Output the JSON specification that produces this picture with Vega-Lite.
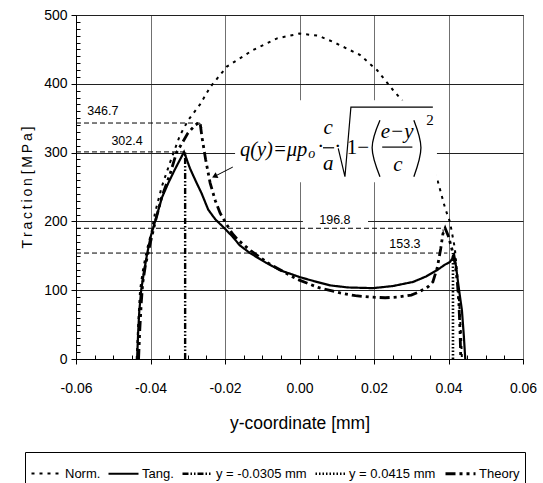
{
  "$schema": "https://vega.github.io/schema/vega-lite/v6.json",
  "width": 447,
  "height": 344,
  "autosize": {"type": "none"},
  "padding": {"left": 76, "top": 15, "right": 20, "bottom": 124},
  "background": "white",
  "config": {
    "font": "Liberation Sans",
    "view": {"stroke": "black", "strokeWidth": 1},
    "axis": {
      "domainColor": "black", "tickColor": "black", "labelColor": "black", "titleColor": "black",
      "labelFont": "Liberation Sans", "titleFont": "Liberation Sans",
      "labelFontSize": 14, "titleFontWeight": "normal"
    }
  },
  "datasets": {
    "curves": [
      {"s": "Norm.", "x": -0.0437, "v": 0}, {"s": "Norm.", "x": -0.0433, "v": 50}, {"s": "Norm.", "x": -0.0428, "v": 100},
      {"s": "Norm.", "x": -0.0420, "v": 130}, {"s": "Norm.", "x": -0.0410, "v": 158}, {"s": "Norm.", "x": -0.0397, "v": 185},
      {"s": "Norm.", "x": -0.0388, "v": 212}, {"s": "Norm.", "x": -0.0370, "v": 250}, {"s": "Norm.", "x": -0.0348, "v": 285},
      {"s": "Norm.", "x": -0.0321, "v": 325}, {"s": "Norm.", "x": -0.0299, "v": 347}, {"s": "Norm.", "x": -0.0267, "v": 370},
      {"s": "Norm.", "x": -0.0240, "v": 395}, {"s": "Norm.", "x": -0.0195, "v": 425}, {"s": "Norm.", "x": -0.0125, "v": 449},
      {"s": "Norm.", "x": -0.0060, "v": 466}, {"s": "Norm.", "x": 0.0, "v": 473}, {"s": "Norm.", "x": 0.0050, "v": 470},
      {"s": "Norm.", "x": 0.0090, "v": 461}, {"s": "Norm.", "x": 0.0162, "v": 442}, {"s": "Norm.", "x": 0.0208, "v": 420},
      {"s": "Norm.", "x": 0.0251, "v": 391}, {"s": "Norm.", "x": 0.0275, "v": 376}, {"s": "Norm.", "x": 0.0310, "v": 337},
      {"s": "Norm.", "x": 0.0345, "v": 297}, {"s": "Norm.", "x": 0.0372, "v": 257}, {"s": "Norm.", "x": 0.0391, "v": 219},
      {"s": "Norm.", "x": 0.0404, "v": 199}, {"s": "Norm.", "x": 0.0417, "v": 161}, {"s": "Norm.", "x": 0.0424, "v": 120},
      {"s": "Norm.", "x": 0.0430, "v": 70}, {"s": "Norm.", "x": 0.0434, "v": 30}, {"s": "Norm.", "x": 0.0436, "v": 0},

      {"s": "Tang.", "x": -0.0436, "v": 0}, {"s": "Tang.", "x": -0.0433, "v": 40}, {"s": "Tang.", "x": -0.0430, "v": 70},
      {"s": "Tang.", "x": -0.0425, "v": 100}, {"s": "Tang.", "x": -0.0418, "v": 125}, {"s": "Tang.", "x": -0.0409, "v": 153},
      {"s": "Tang.", "x": -0.0400, "v": 177}, {"s": "Tang.", "x": -0.0385, "v": 205}, {"s": "Tang.", "x": -0.0369, "v": 235},
      {"s": "Tang.", "x": -0.0352, "v": 256}, {"s": "Tang.", "x": -0.0335, "v": 275}, {"s": "Tang.", "x": -0.0310, "v": 301},
      {"s": "Tang.", "x": -0.0294, "v": 277}, {"s": "Tang.", "x": -0.0278, "v": 258}, {"s": "Tang.", "x": -0.0263, "v": 241},
      {"s": "Tang.", "x": -0.0245, "v": 217}, {"s": "Tang.", "x": -0.0226, "v": 203}, {"s": "Tang.", "x": -0.0205, "v": 192},
      {"s": "Tang.", "x": -0.0180, "v": 178}, {"s": "Tang.", "x": -0.0160, "v": 165}, {"s": "Tang.", "x": -0.0133, "v": 154},
      {"s": "Tang.", "x": -0.0090, "v": 140}, {"s": "Tang.", "x": -0.0052, "v": 129}, {"s": "Tang.", "x": 0.0001, "v": 119},
      {"s": "Tang.", "x": 0.0040, "v": 113}, {"s": "Tang.", "x": 0.0082, "v": 107}, {"s": "Tang.", "x": 0.0130, "v": 104},
      {"s": "Tang.", "x": 0.0197, "v": 103}, {"s": "Tang.", "x": 0.0250, "v": 106}, {"s": "Tang.", "x": 0.0305, "v": 112},
      {"s": "Tang.", "x": 0.0340, "v": 120}, {"s": "Tang.", "x": 0.0369, "v": 129}, {"s": "Tang.", "x": 0.0390, "v": 137},
      {"s": "Tang.", "x": 0.0404, "v": 141}, {"s": "Tang.", "x": 0.0410, "v": 146}, {"s": "Tang.", "x": 0.0415, "v": 152},
      {"s": "Tang.", "x": 0.0420, "v": 135}, {"s": "Tang.", "x": 0.0426, "v": 110}, {"s": "Tang.", "x": 0.0431, "v": 90},
      {"s": "Tang.", "x": 0.0436, "v": 71}, {"s": "Tang.", "x": 0.0441, "v": 35}, {"s": "Tang.", "x": 0.0445, "v": 0},

      {"s": "y = -0.0305 mm", "x": -0.0307, "v": 0}, {"s": "y = -0.0305 mm", "x": -0.0307, "v": 301},
      {"s": "y = 0.0415 mm", "x": 0.0412, "v": 0}, {"s": "y = 0.0415 mm", "x": 0.0412, "v": 154},

      {"s": "Theory", "x": -0.0432, "v": 0}, {"s": "Theory", "x": -0.0429, "v": 40}, {"s": "Theory", "x": -0.0425, "v": 80},
      {"s": "Theory", "x": -0.0421, "v": 110}, {"s": "Theory", "x": -0.0414, "v": 135}, {"s": "Theory", "x": -0.0407, "v": 153},
      {"s": "Theory", "x": -0.0397, "v": 177}, {"s": "Theory", "x": -0.0388, "v": 198}, {"s": "Theory", "x": -0.0370, "v": 235},
      {"s": "Theory", "x": -0.0348, "v": 268}, {"s": "Theory", "x": -0.0330, "v": 300}, {"s": "Theory", "x": -0.0300, "v": 328},
      {"s": "Theory", "x": -0.0280, "v": 340}, {"s": "Theory", "x": -0.0267, "v": 344}, {"s": "Theory", "x": -0.0262, "v": 323},
      {"s": "Theory", "x": -0.0252, "v": 290}, {"s": "Theory", "x": -0.0240, "v": 256}, {"s": "Theory", "x": -0.0226, "v": 230},
      {"s": "Theory", "x": -0.0213, "v": 212}, {"s": "Theory", "x": -0.0195, "v": 195}, {"s": "Theory", "x": -0.0180, "v": 182},
      {"s": "Theory", "x": -0.0165, "v": 173}, {"s": "Theory", "x": -0.0130, "v": 157}, {"s": "Theory", "x": -0.0080, "v": 138},
      {"s": "Theory", "x": -0.0040, "v": 126}, {"s": "Theory", "x": -0.0007, "v": 116}, {"s": "Theory", "x": 0.0050, "v": 104},
      {"s": "Theory", "x": 0.0109, "v": 96}, {"s": "Theory", "x": 0.0150, "v": 92}, {"s": "Theory", "x": 0.0189, "v": 90},
      {"s": "Theory", "x": 0.0230, "v": 89}, {"s": "Theory", "x": 0.0262, "v": 90}, {"s": "Theory", "x": 0.0300, "v": 93},
      {"s": "Theory", "x": 0.0323, "v": 98}, {"s": "Theory", "x": 0.0345, "v": 105}, {"s": "Theory", "x": 0.0358, "v": 112},
      {"s": "Theory", "x": 0.0370, "v": 133}, {"s": "Theory", "x": 0.0379, "v": 160}, {"s": "Theory", "x": 0.0385, "v": 182},
      {"s": "Theory", "x": 0.0391, "v": 190}, {"s": "Theory", "x": 0.0400, "v": 178}, {"s": "Theory", "x": 0.0410, "v": 158},
      {"s": "Theory", "x": 0.0418, "v": 138}, {"s": "Theory", "x": 0.0424, "v": 110}, {"s": "Theory", "x": 0.0428, "v": 80},
      {"s": "Theory", "x": 0.0431, "v": 40}, {"s": "Theory", "x": 0.0433, "v": 0}
    ],
    "annot": [
      {"id": "a1", "x": -0.06, "v": 343}, {"id": "a1", "x": -0.0268, "v": 343}, {"id": "a1", "x": -0.0262, "v": 336},
      {"id": "a2", "x": -0.06, "v": 301}, {"id": "a2", "x": -0.0310, "v": 301},
      {"id": "a3", "x": -0.06, "v": 190}, {"id": "a3", "x": 0.0385, "v": 190}, {"id": "a3", "x": 0.0387, "v": 177},
      {"id": "a4", "x": -0.06, "v": 154}, {"id": "a4", "x": 0.0397, "v": 154}
    ]
  },
  "encoding": {
    "x": {"field": "x", "type": "quantitative", "scale": {"domain": [-0.06, 0.06], "nice": false, "zero": false}},
    "y": {"field": "v", "type": "quantitative", "scale": {"domain": [0, 500], "nice": false}}
  },
  "layer": [
    {
      "data": {"name": "curves"},
      "mark": {"type": "line", "color": "black"},
      "encoding": {
        "x": {"field": "x", "type": "quantitative", "scale": {"domain": [-0.06, 0.06], "nice": false, "zero": false},
          "axis": {
            "title": "y-coordinate [mm]", "titleFontSize": 17.5,
            "values": [-0.06, -0.055, -0.05, -0.045, -0.04, -0.035, -0.03, -0.025, -0.02, -0.015, -0.01, -0.005, 0, 0.005, 0.01, 0.015, 0.02, 0.025, 0.03, 0.035, 0.04, 0.045, 0.05, 0.055, 0.06],
            "tickCount": 200,
            "labelExpr": "abs(datum.value*50-round(datum.value*50))<0.001 ? replace(format(datum.value,'.2f'),'\u2212','-') : ''",
            "labelFlush": false, "labelOverlap": false,
            "grid": true, "gridColor": "#707070",
            "gridOpacity": {"condition": {"test": "abs(datum.value*50-round(datum.value*50))<0.001", "value": 1}, "value": 0},
            "tickSize": {"condition": {"test": "abs(datum.value*50-round(datum.value*50))<0.001", "value": 5}, "value": -4},
            "labelPadding": 17, "titlePadding": 19
          }
        },
        "y": {"field": "v", "type": "quantitative", "scale": {"domain": [0, 500], "nice": false},
          "axis": {
            "title": "T\u2009r\u2009a\u2009c\u2009t\u2009i\u2009o\u2009n [\u2009M\u2009P\u2009a\u2009]", "titleFontSize": 14,
            "values": [0,10,20,30,40,50,60,70,80,90,100,110,120,130,140,150,160,170,180,190,200,210,220,230,240,250,260,270,280,290,300,310,320,330,340,350,360,370,380,390,400,410,420,430,440,450,460,470,480,490,500],
            "tickCount": 200,
            "labelExpr": "abs(datum.value/100-round(datum.value/100))<0.001 ? format(datum.value,'d') : ''",
            "labelOverlap": false, "labelFlush": false,
            "grid": true, "gridColor": "#202020",
            "gridOpacity": {"condition": {"test": "abs(datum.value/100-round(datum.value/100))<0.001", "value": 1}, "value": 0},
            "tickSize": {"condition": {"test": "abs(datum.value/100-round(datum.value/100))<0.001", "value": 5}, "value": -4},
            "labelPadding": 4, "titlePadding": 9
          }
        },
        "strokeDash": {"field": "s", "type": "nominal",
          "scale": {"domain": ["Norm.", "Tang.", "y = -0.0305 mm", "y = 0.0415 mm", "Theory"],
            "range": [[3, 5], [1, 0], [6, 2, 1.5, 2, 1.5, 2], [1.5, 2], [10, 4, 3, 4, 3, 4]]},
          "legend": {"orient": "none", "legendX": -51, "legendY": 437, "direction": "horizontal", "columns": 5, "title": null,
            "symbolType": "stroke", "symbolSize": 900, "symbolStrokeColor": "black",
            "labelFontSize": 13, "labelColor": "black", "labelOffset": 2, "columnPadding": 3, "padding": 5,
            "strokeColor": "black", "labelLimit": 300}
        },
        "strokeWidth": {"field": "s", "type": "nominal",
          "scale": {"domain": ["Norm.", "Tang.", "y = -0.0305 mm", "y = 0.0415 mm", "Theory"], "range": [2, 2.8, 1, 1, 2.2]},
          "legend": {"orient": "none", "legendX": -51, "legendY": 437, "direction": "horizontal", "columns": 5, "title": null,
            "symbolType": "stroke", "symbolSize": 900, "symbolStrokeColor": "black",
            "labelFontSize": 13, "labelColor": "black", "labelOffset": 2, "columnPadding": 3, "padding": 5,
            "strokeColor": "black", "labelLimit": 300}
        },
        "order": {"value": null}
      }
    },
    {
      "data": {"name": "annot"},
      "mark": {"type": "line", "color": "black", "strokeWidth": 1, "strokeDash": [5, 3]},
      "encoding": {"detail": {"field": "id"}, "order": {"value": null}}
    },
    {
      "data": {"values": [
        {"x": -0.0173, "x2": 0.0369, "v": 257, "v2": 376},
        {"x": 0.0009, "x2": 0.0184, "v": 193, "v2": 215}
      ]},
      "mark": {"type": "rect", "fill": "white"},
      "encoding": {"x2": {"field": "x2"}, "y2": {"field": "v2"}}
    },
    {
      "data": {"values": [
        {"t": "346.7", "x": -0.0528, "v": 360},
        {"t": "302.4", "x": -0.0463, "v": 317},
        {"t": "196.8", "x": 0.0095, "v": 202},
        {"t": "153.3", "x": 0.0283, "v": 167}
      ]},
      "mark": {"type": "text", "fontSize": 12.5, "align": "center", "baseline": "middle", "color": "black"},
      "encoding": {"text": {"field": "t"}}
    },
    {
      "data": {"values": [
        {"id": "b1", "x": 0.0063, "v": 307}, {"id": "b1", "x": 0.0093, "v": 307},
        {"id": "b2", "x": 0.0222, "v": 308}, {"id": "b2", "x": 0.0303, "v": 308},
        {"id": "r", "x": 0.0104, "v": 306}, {"id": "r", "x": 0.0122, "v": 265}, {"id": "r", "x": 0.0138, "v": 366}, {"id": "r", "x": 0.0358, "v": 366}
      ]},
      "mark": {"type": "line", "color": "black", "strokeWidth": 1.2},
      "encoding": {"detail": {"field": "id"}, "order": {"value": null}}
    },
    {
      "data": {"values": [
        {"id": "p1", "x": 0.0216, "v": 347}, {"id": "p1", "x": 0.0195, "v": 307}, {"id": "p1", "x": 0.0216, "v": 265},
        {"id": "p2", "x": 0.0307, "v": 347}, {"id": "p2", "x": 0.0326, "v": 307}, {"id": "p2", "x": 0.0307, "v": 265}
      ]},
      "mark": {"type": "line", "color": "black", "strokeWidth": 1.3, "interpolate": "natural"},
      "encoding": {"detail": {"field": "id"}, "order": {"value": null}}
    },
    {
      "data": {"values": [{"t": "q(y)=\u03bcp", "x": -0.0160, "v": 304}]},
      "mark": {"type": "text", "font": "Liberation Serif", "fontStyle": "italic", "fontSize": 20.5, "align": "left", "baseline": "middle", "color": "black"},
      "encoding": {"text": {"field": "t"}}
    },
    {
      "data": {"values": [
        {"t": "c", "x": 0.0077, "v": 336}, {"t": "a", "x": 0.0077, "v": 283},
        {"t": "e\u2212y", "x": 0.0262, "v": 330}, {"t": "c", "x": 0.0264, "v": 282}
      ]},
      "mark": {"type": "text", "font": "Liberation Serif", "fontStyle": "italic", "fontSize": 21, "align": "center", "baseline": "middle", "color": "black"},
      "encoding": {"text": {"field": "t"}}
    },
    {
      "data": {"values": [{"t": "o", "x": 0.0033, "v": 298}]},
      "mark": {"type": "text", "font": "Liberation Serif", "fontStyle": "italic", "fontSize": 14, "align": "center", "baseline": "middle", "color": "black"},
      "encoding": {"text": {"field": "t"}}
    },
    {
      "data": {"values": [
        {"t": "\u00b7", "x": 0.0057, "v": 308}, {"t": "\u00b7", "x": 0.0103, "v": 308}, {"t": "1\u2212", "x": 0.0157, "v": 307}
      ]},
      "mark": {"type": "text", "font": "Liberation Serif", "fontSize": 21, "align": "center", "baseline": "middle", "color": "black"},
      "encoding": {"text": {"field": "t"}}
    },
    {
      "data": {"values": [{"t": "2", "x": 0.0350, "v": 347}]},
      "mark": {"type": "text", "font": "Liberation Serif", "fontSize": 15, "align": "center", "baseline": "middle", "color": "black"},
      "encoding": {"text": {"field": "t"}}
    },
    {
      "data": {"values": [{"x": -0.0179, "v": 279, "x2": -0.0228, "v2": 265.4}]},
      "mark": {"type": "rule", "color": "black", "strokeWidth": 1},
      "encoding": {"x2": {"field": "x2"}, "y2": {"field": "v2"}}
    },
    {
      "data": {"values": [{"x": -0.0228, "v": 265.4}]},
      "mark": {"type": "point", "shape": "triangle-right", "angle": 154, "size": 40, "filled": true, "color": "black", "opacity": 1},
      "encoding": {}
    }
  ]
}
